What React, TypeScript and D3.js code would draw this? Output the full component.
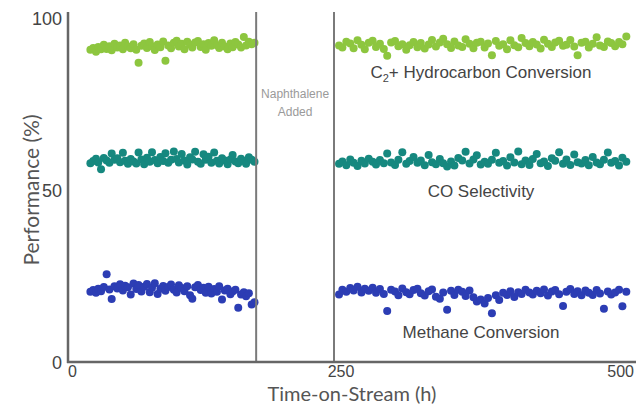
import React, { useRef, useEffect } from "react";
import * as d3 from "d3";

// hours, before the naphthalene was added
const t1 = [20, 22.5, 25, 27, 29.5, 32, 34.5, 37, 39, 41.5, 44, 46.5, 49, 51, 53.5, 56, 58.5, 61, 63, 65.5,
  68, 70.5, 73, 75, 77.5, 80, 82.5, 85, 87, 89.5, 92, 94.5, 97, 99, 101.5, 104, 106.5, 109, 111, 113.5,
  116, 118.5, 121, 123, 125.5, 128, 130.5, 133, 135, 137.5, 140, 142.5, 145, 147, 149.5, 152, 154.5, 157, 159, 161.5,
  164, 166.5];
// hours, after
const t2 = [242, 245, 248.5, 252, 255, 258.5, 262, 265, 268.5, 272, 275, 278.5, 282, 285, 288.5, 292, 295, 298.5,
  302, 305, 308.5, 312, 315, 318.5, 322, 325, 328.5, 332, 335, 338.5, 342, 345, 348.5, 352, 355, 358.5,
  362, 365, 368.5, 372, 375, 378.5, 382, 385, 388.5, 392, 395, 398.5, 402, 405, 408.5, 412, 415, 418.5,
  422, 425, 428.5, 432, 435, 438.5, 442, 445, 448.5, 452, 455, 458.5, 462, 465, 468.5, 472, 475, 478.5,
  482, 485, 488.5, 492, 495, 498.5];

const c2Before = [90.8, 91.3, 90.2, 91.6, 90.9, 92.2, 91.0, 91.8, 90.6, 92.5,
  91.4, 92.0, 90.9, 92.8, 91.7, 91.2, 92.4, 90.8, 87.0, 91.9,
  92.6, 91.3, 93.0, 91.8, 90.7, 92.3, 91.5, 93.2, 87.6, 92.0,
  91.2, 92.8, 93.4, 91.7, 92.5, 90.9, 93.1, 92.2, 91.4, 92.9,
  93.3, 91.6, 92.4, 90.8, 92.7, 91.9, 93.5, 92.1, 91.3, 92.8,
  91.7, 90.9, 92.6, 91.5, 93.0, 92.3, 91.4, 94.5, 92.0, 93.1,
  92.4, 92.8];
const c2After = [92.0, 91.4, 93.1, 92.6, 91.2, 93.5, 92.2, 90.9, 92.8, 93.4,
  91.6, 92.5, 91.0, 89.0, 92.9, 93.3, 91.8, 92.4, 90.8, 92.1,
  93.0, 91.5, 92.7, 91.1, 92.3, 93.6, 91.7, 92.9, 94.0, 92.4,
  91.3, 93.2, 92.0, 91.6, 93.8, 92.5, 91.2, 92.8, 93.1, 91.4,
  92.6, 89.2, 93.3, 91.9, 92.4, 90.9, 93.5, 92.1, 91.5, 94.2,
  92.7, 91.8, 93.0, 92.3, 91.1, 93.7, 92.5, 91.6, 92.9, 93.4,
  91.9, 92.2, 93.6, 91.7, 89.2, 92.8, 93.1, 91.4, 92.5, 94.4,
  92.0, 91.6, 93.2, 92.7, 91.8, 93.0, 92.4, 94.6];

const coBefore = [57.8, 58.4, 59.1, 58.0, 56.0, 59.3, 58.6, 57.9, 60.6, 58.8,
  59.2, 58.1, 60.8, 58.5, 57.6, 59.0, 58.3, 57.7, 60.9, 58.9,
  57.5, 59.4, 58.2, 61.0, 58.7, 57.8, 59.6, 58.4, 60.7, 57.9,
  58.8, 61.2, 59.0, 58.0, 60.5, 58.6, 57.4, 59.5, 58.9, 61.1,
  58.2, 57.6, 60.4, 58.8, 59.7, 57.9, 60.9, 58.5, 57.7, 59.2,
  58.6, 57.5, 58.9, 60.2, 58.3, 57.8, 59.1, 58.4, 57.6, 59.5,
  58.8, 58.2];
const coAfter = [57.6, 58.3, 57.2, 58.9, 57.9, 57.0, 58.5, 57.7, 59.1, 58.2,
  57.4, 58.7, 57.8, 60.6, 58.0, 57.3, 58.8, 61.0, 57.6, 58.4,
  59.6, 57.9, 58.6, 57.2, 60.2, 58.1, 57.5, 59.0, 57.8, 56.8,
  58.3, 57.1, 59.3, 58.6, 61.1, 57.7, 58.9, 60.1, 57.4, 58.2,
  57.6, 58.8, 60.8, 57.9, 58.4, 57.1, 59.5, 58.0, 61.2, 57.5,
  58.6, 57.3, 59.0, 60.5, 57.8, 58.3, 57.0, 59.2, 58.5, 61.0,
  57.6, 58.9, 57.3, 60.3, 58.1, 57.7, 58.7, 57.2, 59.6, 58.0,
  57.5, 58.8, 60.9, 57.9, 58.4, 57.1, 59.4, 58.2];

const ch4Before = [20.4, 20.9, 20.1, 21.3, 20.6, 21.8, 25.5, 21.1, 18.3, 22.0,
  21.4, 22.6, 20.8, 22.2, 21.7, 19.6, 22.8, 21.2, 22.4, 20.5,
  21.9, 22.7, 20.3, 21.6, 22.9, 19.8, 21.3, 22.1, 20.7, 21.8,
  22.5, 21.0, 20.2, 22.3, 21.5, 20.6, 22.0, 19.4, 18.4, 21.7,
  22.4, 20.9, 21.6, 20.1, 21.9, 19.9, 21.2, 20.4, 22.0, 18.2,
  20.8, 21.3, 19.7, 20.5, 21.0, 15.8, 19.6, 20.3, 19.1, 20.0,
  16.7, 17.4];
const ch4After = [19.6, 21.0, 20.4, 21.5, 20.8, 21.9, 20.2, 21.3, 20.7, 21.6,
  20.1, 21.2, 19.8, 14.8, 21.0, 20.5, 19.4, 21.4, 20.3, 19.7,
  20.9, 21.3, 20.0, 19.3, 20.6, 21.1, 19.0, 18.4, 20.2, 15.2,
  20.7, 19.5, 21.0, 20.4, 19.2, 20.8, 18.8, 17.6, 18.2, 17.0,
  18.6, 14.2, 19.4, 18.0, 20.1, 19.5, 20.6, 18.9, 20.3, 19.8,
  21.0, 20.2, 19.6, 20.7, 20.0, 21.1, 19.3, 20.5, 20.9, 19.7,
  16.3, 20.4, 21.2, 19.8, 20.6, 19.4, 20.8, 20.1, 19.5, 20.9,
  19.9, 15.5, 20.5, 19.6, 20.2, 21.0, 16.2, 20.4];

const seriesNames = ["C2+ Hydrocarbon Conversion", "CO Selectivity", "Methane Conversion"];
const seriesColors = ["#8dc63f", "#16887f", "#2c3db4"];
const naphthaleneStart = 168;
const naphthaleneEnd = 237.5;
const xTicks = [0, 250, 500];
const yTicks = [0, 50, 100];

export default function App() {
  const svgRef = useRef(null);

  useEffect(() => {
    let svg = d3.select(svgRef.current);
    svg.selectChildren().remove();

    const x = d3.scaleLinear().domain([0, 500]).range([68, 628]);
    const y = d3.scaleLinear().domain([0, 100]).range([362, 18]);
    const narrow = "'Liberation Sans Narrow', 'Liberation Sans', Arial, sans-serif";

    // dots
    const groups = [
      [c2Before, c2After],
      [coBefore, coAfter],
      [ch4Before, ch4After],
    ];
    groups.forEach((g, i) => {
      const pts = t1.map((t, j) => [t, g[0][j]]).concat(t2.map((t, j) => [t, g[1][j]]));
      svg.append("g")
        .selectAll("circle")
        .data(pts)
        .join("circle")
        .attr("cx", (d) => x(d[0]))
        .attr("cy", (d) => y(d[1]))
        .attr("r", 4)
        .attr("fill", seriesColors[i]);
    });

    // naphthalene window
    svg.append("g")
      .selectAll("line")
      .data([naphthaleneStart, naphthaleneEnd])
      .join("line")
      .attr("x1", (d) => x(d))
      .attr("x2", (d) => x(d))
      .attr("y1", 12)
      .attr("y2", y(0))
      .attr("stroke", "#7a7a7a")
      .attr("stroke-width", 2);
    const mid = (x(naphthaleneStart) + x(naphthaleneEnd)) / 2;
    svg.append("text")
      .attr("x", mid)
      .attr("y", 98)
      .attr("text-anchor", "middle")
      .attr("font-family", narrow)
      .attr("font-size", 12)
      .attr("fill", "#9a9a9a")
      .text("Naphthalene");
    svg.append("text")
      .attr("x", mid)
      .attr("y", 116)
      .attr("text-anchor", "middle")
      .attr("font-family", narrow)
      .attr("font-size", 12)
      .attr("fill", "#9a9a9a")
      .text("Added");

    // axes
    svg.append("line")
      .attr("x1", 68).attr("x2", 68)
      .attr("y1", 12).attr("y2", y(0) + 1)
      .attr("stroke", "#666").attr("stroke-width", 2.5);
    svg.append("line")
      .attr("x1", 67).attr("x2", 636)
      .attr("y1", y(0)).attr("y2", y(0))
      .attr("stroke", "#666").attr("stroke-width", 2.5);

    svg.append("g")
      .selectAll("text")
      .data(yTicks)
      .join("text")
      .attr("x", 62)
      .attr("y", (d) => y(d) + 7)
      .attr("text-anchor", "end")
      .attr("font-family", narrow)
      .attr("font-size", 18)
      .attr("fill", "#444")
      .text((d) => d);

    const anchors = ["start", "middle", "end"];
    const shift = [0, -7, 6];
    svg.append("g")
      .selectAll("text")
      .data(xTicks)
      .join("text")
      .attr("x", (d, i) => x(d) + shift[i])
      .attr("y", 377)
      .attr("text-anchor", (d, i) => anchors[i])
      .attr("font-family", narrow)
      .attr("font-size", 16)
      .attr("fill", "#444")
      .text((d) => d);

    // axis titles
    svg.append("text")
      .attr("transform", "translate(39,190) rotate(-90)")
      .attr("text-anchor", "middle")
      .attr("font-family", "Lato, 'Open Sans', sans-serif")
      .attr("font-size", 21)
      .attr("fill", "#555")
      .text("Performance (%)");
    svg.append("text")
      .attr("x", 352)
      .attr("y", 401)
      .attr("text-anchor", "middle")
      .attr("font-family", "Lato, 'Open Sans', sans-serif")
      .attr("font-size", 20)
      .attr("fill", "#555")
      .text("Time-on-Stream (h)");

    // series labels
    const c2 = svg.append("text")
      .attr("x", 481)
      .attr("y", 78)
      .attr("text-anchor", "middle")
      .attr("font-family", narrow)
      .attr("font-size", 17)
      .attr("fill", "#444");
    c2.append("tspan").text("C");
    c2.append("tspan").attr("font-size", 11).attr("dy", 4).text("2");
    c2.append("tspan").attr("dy", -4).text("+ Hydrocarbon Conversion");
    svg.append("text")
      .attr("x", 481)
      .attr("y", 197)
      .attr("text-anchor", "middle")
      .attr("font-family", narrow)
      .attr("font-size", 17)
      .attr("fill", "#444")
      .text(seriesNames[1]);
    svg.append("text")
      .attr("x", 481)
      .attr("y", 338)
      .attr("text-anchor", "middle")
      .attr("font-family", narrow)
      .attr("font-size", 17)
      .attr("fill", "#444")
      .text(seriesNames[2]);
  }, []);

  return (
    <React.Fragment>
      <svg ref={svgRef} width={636} height={406}
        style={{ position: "absolute", left: 0, top: 0, background: "#fff" }}></svg>
    </React.Fragment>
  );
}
